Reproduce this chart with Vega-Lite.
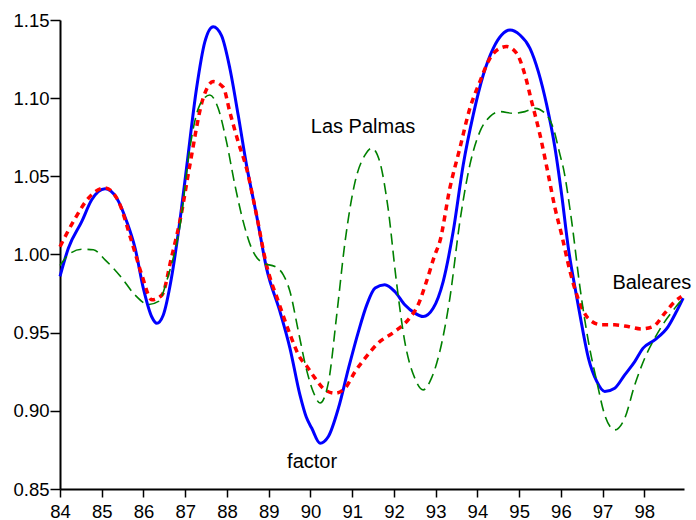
{
  "$schema": "https://vega.github.io/schema/vega-lite/v6.json",
  "width": 624,
  "height": 469,
  "autosize": "none",
  "padding": {"left": 60, "top": 20, "right": 12, "bottom": 31},
  "background": "white",
  "config": {
    "view": {"stroke": null},
    "font": "Liberation Sans",
    "axis": {
      "grid": false,
      "title": null,
      "domainColor": "black",
      "domainWidth": 2,
      "tickColor": "black",
      "tickWidth": 1.5,
      "labelColor": "black",
      "labelFont": "Liberation Sans",
      "labelFontSize": 18.5,
      "labelFlush": false,
      "labelOverlap": false
    }
  },
  "datasets": {
    "series": [
      {"s": "factor", "x": 84.0, "y": 0.986}, {"s": "factor", "x": 84.2, "y": 1.004}, {"s": "factor", "x": 84.52, "y": 1.021}, {"s": "factor", "x": 84.76, "y": 1.035},
      {"s": "factor", "x": 85.08, "y": 1.042}, {"s": "factor", "x": 85.36, "y": 1.036}, {"s": "factor", "x": 85.6, "y": 1.021}, {"s": "factor", "x": 85.8, "y": 1.004},
      {"s": "factor", "x": 86.0, "y": 0.978}, {"s": "factor", "x": 86.2, "y": 0.96}, {"s": "factor", "x": 86.32, "y": 0.956}, {"s": "factor", "x": 86.47, "y": 0.961},
      {"s": "factor", "x": 86.67, "y": 0.985}, {"s": "factor", "x": 86.87, "y": 1.021}, {"s": "factor", "x": 87.03, "y": 1.055}, {"s": "factor", "x": 87.27, "y": 1.106},
      {"s": "factor", "x": 87.47, "y": 1.136}, {"s": "factor", "x": 87.67, "y": 1.1457}, {"s": "factor", "x": 87.87, "y": 1.14}, {"s": "factor", "x": 88.07, "y": 1.119},
      {"s": "factor", "x": 88.27, "y": 1.089}, {"s": "factor", "x": 88.47, "y": 1.057}, {"s": "factor", "x": 88.71, "y": 1.025}, {"s": "factor", "x": 88.95, "y": 0.991},
      {"s": "factor", "x": 89.27, "y": 0.9635}, {"s": "factor", "x": 89.51, "y": 0.94}, {"s": "factor", "x": 89.75, "y": 0.91}, {"s": "factor", "x": 89.9, "y": 0.896},
      {"s": "factor", "x": 90.03, "y": 0.889}, {"s": "factor", "x": 90.23, "y": 0.8793}, {"s": "factor", "x": 90.43, "y": 0.8836}, {"s": "factor", "x": 90.67, "y": 0.9017},
      {"s": "factor", "x": 90.91, "y": 0.927}, {"s": "factor", "x": 91.15, "y": 0.9507}, {"s": "factor", "x": 91.35, "y": 0.9678}, {"s": "factor", "x": 91.55, "y": 0.9785},
      {"s": "factor", "x": 91.78, "y": 0.9806}, {"s": "factor", "x": 92.02, "y": 0.9763}, {"s": "factor", "x": 92.26, "y": 0.9678}, {"s": "factor", "x": 92.5, "y": 0.9625},
      {"s": "factor", "x": 92.7, "y": 0.9603}, {"s": "factor", "x": 92.94, "y": 0.9656}, {"s": "factor", "x": 93.18, "y": 0.9827}, {"s": "factor", "x": 93.42, "y": 1.0147},
      {"s": "factor", "x": 93.66, "y": 1.0573}, {"s": "factor", "x": 93.9, "y": 1.0893}, {"s": "factor", "x": 94.14, "y": 1.1148}, {"s": "factor", "x": 94.38, "y": 1.1319},
      {"s": "factor", "x": 94.58, "y": 1.1404}, {"s": "factor", "x": 94.78, "y": 1.1436}, {"s": "factor", "x": 95.02, "y": 1.1404}, {"s": "factor", "x": 95.26, "y": 1.1319},
      {"s": "factor", "x": 95.46, "y": 1.117}, {"s": "factor", "x": 95.66, "y": 1.0957}, {"s": "factor", "x": 95.86, "y": 1.068}, {"s": "factor", "x": 96.02, "y": 1.0381},
      {"s": "factor", "x": 96.18, "y": 1.004}, {"s": "factor", "x": 96.34, "y": 0.9785}, {"s": "factor", "x": 96.5, "y": 0.955}, {"s": "factor", "x": 96.66, "y": 0.9337},
      {"s": "factor", "x": 96.86, "y": 0.9188}, {"s": "factor", "x": 97.05, "y": 0.9124}, {"s": "factor", "x": 97.29, "y": 0.9145}, {"s": "factor", "x": 97.53, "y": 0.923},
      {"s": "factor", "x": 97.77, "y": 0.9315}, {"s": "factor", "x": 97.97, "y": 0.9401}, {"s": "factor", "x": 98.25, "y": 0.9454}, {"s": "factor", "x": 98.57, "y": 0.9539},
      {"s": "factor", "x": 98.77, "y": 0.9635}, {"s": "factor", "x": 98.93, "y": 0.9721},

      {"s": "Baleares", "x": 84.0, "y": 1.005}, {"s": "Baleares", "x": 84.36, "y": 1.023}, {"s": "Baleares", "x": 84.68, "y": 1.036}, {"s": "Baleares", "x": 85.08, "y": 1.0426},
      {"s": "Baleares", "x": 85.4, "y": 1.034}, {"s": "Baleares", "x": 85.72, "y": 1.008}, {"s": "Baleares", "x": 85.96, "y": 0.987}, {"s": "Baleares", "x": 86.2, "y": 0.971},
      {"s": "Baleares", "x": 86.44, "y": 0.974}, {"s": "Baleares", "x": 86.67, "y": 0.998}, {"s": "Baleares", "x": 86.9, "y": 1.025}, {"s": "Baleares", "x": 87.11, "y": 1.057},
      {"s": "Baleares", "x": 87.43, "y": 1.1}, {"s": "Baleares", "x": 87.67, "y": 1.1106}, {"s": "Baleares", "x": 87.91, "y": 1.107}, {"s": "Baleares", "x": 88.07, "y": 1.091},
      {"s": "Baleares", "x": 88.27, "y": 1.072}, {"s": "Baleares", "x": 88.47, "y": 1.055}, {"s": "Baleares", "x": 88.71, "y": 1.025}, {"s": "Baleares", "x": 88.95, "y": 0.993},
      {"s": "Baleares", "x": 89.23, "y": 0.97}, {"s": "Baleares", "x": 89.51, "y": 0.949}, {"s": "Baleares", "x": 89.75, "y": 0.934}, {"s": "Baleares", "x": 89.9, "y": 0.929},
      {"s": "Baleares", "x": 90.11, "y": 0.9209}, {"s": "Baleares", "x": 90.35, "y": 0.9134}, {"s": "Baleares", "x": 90.59, "y": 0.9113}, {"s": "Baleares", "x": 90.83, "y": 0.9145},
      {"s": "Baleares", "x": 91.07, "y": 0.9251}, {"s": "Baleares", "x": 91.31, "y": 0.9337}, {"s": "Baleares", "x": 91.62, "y": 0.9433}, {"s": "Baleares", "x": 92.02, "y": 0.9507},
      {"s": "Baleares", "x": 92.34, "y": 0.9582}, {"s": "Baleares", "x": 92.58, "y": 0.9678}, {"s": "Baleares", "x": 92.78, "y": 0.9827}, {"s": "Baleares", "x": 92.98, "y": 0.9997},
      {"s": "Baleares", "x": 93.1, "y": 1.0083}, {"s": "Baleares", "x": 93.34, "y": 1.0424}, {"s": "Baleares", "x": 93.58, "y": 1.068}, {"s": "Baleares", "x": 93.82, "y": 1.0935},
      {"s": "Baleares", "x": 94.06, "y": 1.1106}, {"s": "Baleares", "x": 94.3, "y": 1.1255}, {"s": "Baleares", "x": 94.54, "y": 1.1319}, {"s": "Baleares", "x": 94.7, "y": 1.133},
      {"s": "Baleares", "x": 94.94, "y": 1.1287}, {"s": "Baleares", "x": 95.14, "y": 1.1148}, {"s": "Baleares", "x": 95.3, "y": 1.0978}, {"s": "Baleares", "x": 95.5, "y": 1.0765},
      {"s": "Baleares", "x": 95.7, "y": 1.0509}, {"s": "Baleares", "x": 95.86, "y": 1.0296}, {"s": "Baleares", "x": 96.02, "y": 1.0125}, {"s": "Baleares", "x": 96.22, "y": 0.9891},
      {"s": "Baleares", "x": 96.41, "y": 0.972}, {"s": "Baleares", "x": 96.65, "y": 0.9593}, {"s": "Baleares", "x": 96.97, "y": 0.955}, {"s": "Baleares", "x": 97.29, "y": 0.955},
      {"s": "Baleares", "x": 97.61, "y": 0.9539}, {"s": "Baleares", "x": 97.93, "y": 0.9524}, {"s": "Baleares", "x": 98.21, "y": 0.9539}, {"s": "Baleares", "x": 98.49, "y": 0.9625},
      {"s": "Baleares", "x": 98.73, "y": 0.9699}, {"s": "Baleares", "x": 98.89, "y": 0.9731},

      {"s": "Las Palmas", "x": 84.0, "y": 0.993}, {"s": "Las Palmas", "x": 84.2, "y": 0.9997}, {"s": "Las Palmas", "x": 84.52, "y": 1.0034}, {"s": "Las Palmas", "x": 84.8, "y": 1.003},
      {"s": "Las Palmas", "x": 85.08, "y": 0.9966}, {"s": "Las Palmas", "x": 85.48, "y": 0.985}, {"s": "Las Palmas", "x": 85.8, "y": 0.974}, {"s": "Las Palmas", "x": 86.12, "y": 0.968},
      {"s": "Las Palmas", "x": 86.36, "y": 0.97}, {"s": "Las Palmas", "x": 86.6, "y": 0.987}, {"s": "Las Palmas", "x": 86.89, "y": 1.021}, {"s": "Las Palmas", "x": 87.11, "y": 1.068},
      {"s": "Las Palmas", "x": 87.35, "y": 1.0957}, {"s": "Las Palmas", "x": 87.59, "y": 1.102}, {"s": "Las Palmas", "x": 87.79, "y": 1.0935}, {"s": "Las Palmas", "x": 87.99, "y": 1.072},
      {"s": "Las Palmas", "x": 88.19, "y": 1.0445}, {"s": "Las Palmas", "x": 88.39, "y": 1.021}, {"s": "Las Palmas", "x": 88.59, "y": 1.004}, {"s": "Las Palmas", "x": 88.87, "y": 0.9944},
      {"s": "Las Palmas", "x": 89.15, "y": 0.9923}, {"s": "Las Palmas", "x": 89.35, "y": 0.987}, {"s": "Las Palmas", "x": 89.51, "y": 0.9763}, {"s": "Las Palmas", "x": 89.71, "y": 0.951},
      {"s": "Las Palmas", "x": 89.9, "y": 0.927}, {"s": "Las Palmas", "x": 90.07, "y": 0.912}, {"s": "Las Palmas", "x": 90.23, "y": 0.905}, {"s": "Las Palmas", "x": 90.43, "y": 0.918},
      {"s": "Las Palmas", "x": 90.63, "y": 0.9614}, {"s": "Las Palmas", "x": 90.83, "y": 1.0083}, {"s": "Las Palmas", "x": 91.07, "y": 1.0466}, {"s": "Las Palmas", "x": 91.31, "y": 1.0637},
      {"s": "Las Palmas", "x": 91.47, "y": 1.068}, {"s": "Las Palmas", "x": 91.66, "y": 1.0594}, {"s": "Las Palmas", "x": 91.86, "y": 1.0296}, {"s": "Las Palmas", "x": 92.06, "y": 0.9827},
      {"s": "Las Palmas", "x": 92.26, "y": 0.9443}, {"s": "Las Palmas", "x": 92.5, "y": 0.9209}, {"s": "Las Palmas", "x": 92.7, "y": 0.9134}, {"s": "Las Palmas", "x": 92.9, "y": 0.9209},
      {"s": "Las Palmas", "x": 93.1, "y": 0.938}, {"s": "Las Palmas", "x": 93.34, "y": 0.972}, {"s": "Las Palmas", "x": 93.58, "y": 1.021}, {"s": "Las Palmas", "x": 93.82, "y": 1.0573},
      {"s": "Las Palmas", "x": 94.06, "y": 1.0786}, {"s": "Las Palmas", "x": 94.3, "y": 1.0882}, {"s": "Las Palmas", "x": 94.54, "y": 1.0914}, {"s": "Las Palmas", "x": 94.86, "y": 1.0903},
      {"s": "Las Palmas", "x": 95.14, "y": 1.0914}, {"s": "Las Palmas", "x": 95.38, "y": 1.0935}, {"s": "Las Palmas", "x": 95.62, "y": 1.0903}, {"s": "Las Palmas", "x": 95.82, "y": 1.0807},
      {"s": "Las Palmas", "x": 95.98, "y": 1.0637}, {"s": "Las Palmas", "x": 96.06, "y": 1.0552}, {"s": "Las Palmas", "x": 96.26, "y": 1.021}, {"s": "Las Palmas", "x": 96.46, "y": 0.9785},
      {"s": "Las Palmas", "x": 96.66, "y": 0.9443}, {"s": "Las Palmas", "x": 96.86, "y": 0.9188}, {"s": "Las Palmas", "x": 97.05, "y": 0.8974}, {"s": "Las Palmas", "x": 97.29, "y": 0.8878},
      {"s": "Las Palmas", "x": 97.53, "y": 0.8953}, {"s": "Las Palmas", "x": 97.77, "y": 0.9166}, {"s": "Las Palmas", "x": 98.01, "y": 0.9337}, {"s": "Las Palmas", "x": 98.25, "y": 0.9465},
      {"s": "Las Palmas", "x": 98.49, "y": 0.9571}, {"s": "Las Palmas", "x": 98.73, "y": 0.9657}, {"s": "Las Palmas", "x": 98.93, "y": 0.9721}
    ],
    "labels": [
      {"label": "Las Palmas", "x": 91.26, "y": 1.0816},
      {"label": "factor", "x": 90.04, "y": 0.8674},
      {"label": "Baleares", "x": 98.18, "y": 0.9818}
    ]
  },
  "encoding": {
    "x": {
      "field": "x", "type": "quantitative",
      "scale": {"domain": [84, 98.95], "nice": false, "zero": false},
      "axis": {"values": [84, 85, 86, 87, 88, 89, 90, 91, 92, 93, 94, 95, 96, 97, 98], "format": "d", "tickSize": 8, "labelPadding": 5}
    },
    "y": {
      "field": "y", "type": "quantitative",
      "scale": {"domain": [0.85, 1.15], "nice": false, "zero": false},
      "axis": {"values": [0.85, 0.9, 0.95, 1.0, 1.05, 1.1, 1.15], "format": ".2f", "tickSize": 10, "labelPadding": 1}
    }
  },
  "layer": [
    {
      "data": {"name": "series"},
      "transform": [{"filter": "datum.s === 'factor'"}],
      "mark": {"type": "line", "interpolate": "monotone", "color": "#0000ff", "strokeWidth": 3}
    },
    {
      "data": {"name": "series"},
      "transform": [{"filter": "datum.s === 'Baleares'"}],
      "mark": {"type": "line", "interpolate": "monotone", "color": "#ff0000", "strokeWidth": 3.5, "strokeDash": [6, 5]}
    },
    {
      "data": {"name": "series"},
      "transform": [{"filter": "datum.s === 'Las Palmas'"}],
      "mark": {"type": "line", "interpolate": "monotone", "color": "#008000", "strokeWidth": 1.6, "strokeDash": [11, 6]}
    },
    {
      "data": {"name": "labels"},
      "mark": {"type": "text", "font": "Liberation Sans", "fontSize": 20, "color": "black", "align": "center", "baseline": "middle"},
      "encoding": {"text": {"field": "label"}}
    }
  ]
}
